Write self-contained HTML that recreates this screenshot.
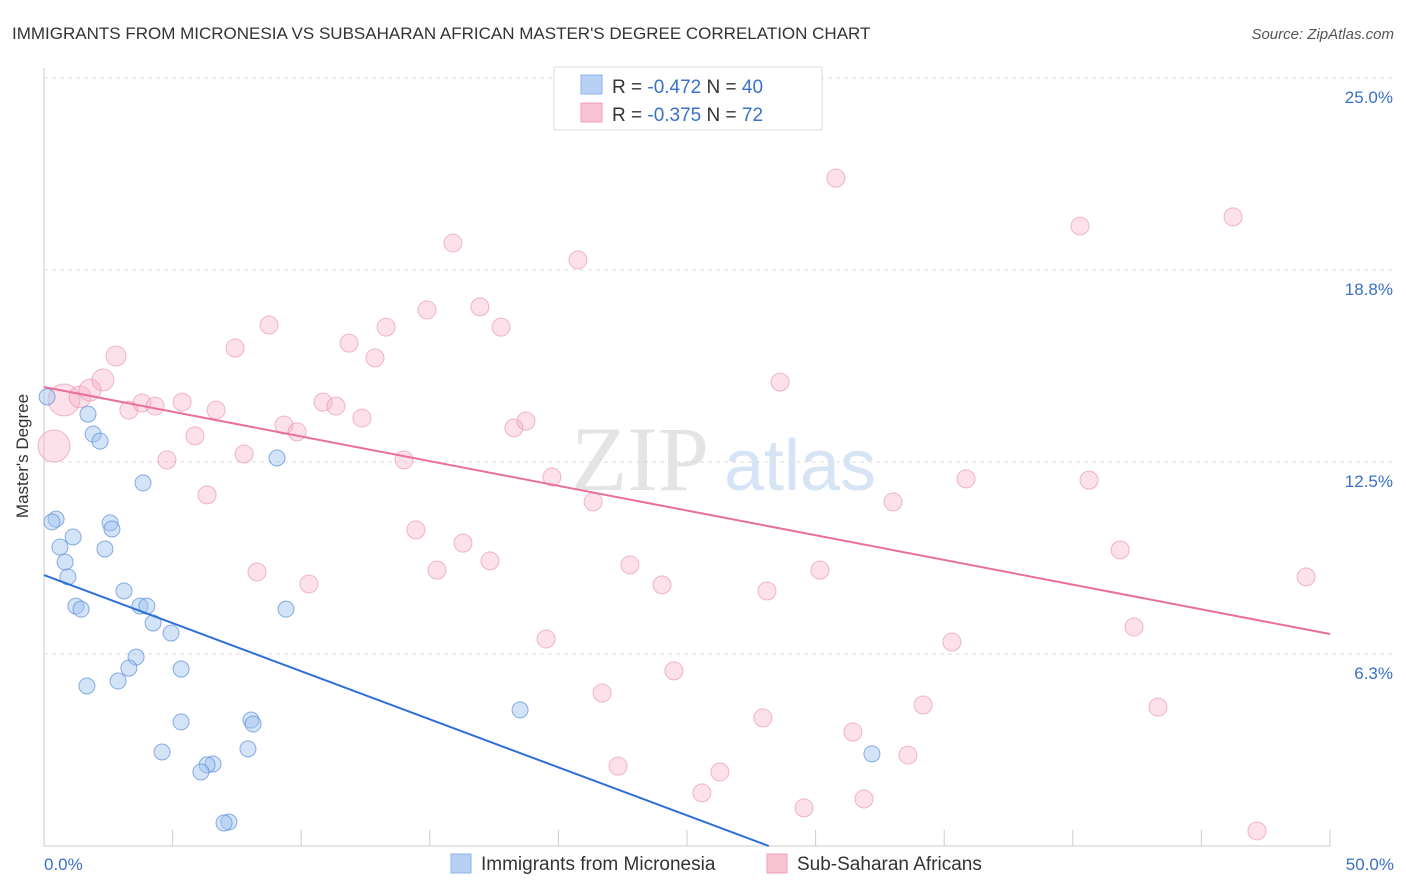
<!DOCTYPE html>
<html><head><meta charset="utf-8"><style>
body{margin:0;background:#fff;font-family:"Liberation Sans",sans-serif;}
svg{display:block}
</style></head><body>
<svg id="chart" width="1406" height="892" xmlns="http://www.w3.org/2000/svg">
<text x="12" y="39" font-size="17" fill="#333">IMMIGRANTS FROM MICRONESIA VS SUBSAHARAN AFRICAN MASTER'S DEGREE CORRELATION CHART</text>
<text x="1394" y="39" font-size="15" fill="#555" font-style="italic" text-anchor="end">Source: ZipAtlas.com</text>
<text x="640" y="490" font-size="92" fill="#e4e4e4" text-anchor="middle" font-family="Liberation Serif,serif">ZIP</text>
<text x="800" y="490" font-size="72" fill="#d6e4f5" text-anchor="middle">atlas</text>
<g id="grid"></g>
<g id="axes"></g>
<g id="marks"></g>
<text x="28" y="456" font-size="17" fill="#333" text-anchor="middle" transform="rotate(-90 28 456)">Master's Degree</text>
<text x="44" y="870" font-size="17" fill="#3a70c8">0.0%</text>
<text x="1394" y="870" font-size="17" fill="#3a70c8" text-anchor="end">50.0%</text>
<g>
<rect x="554" y="67" width="268" height="63" fill="#fff" stroke="#ddd"/>
<rect x="581" y="75" width="21" height="19" fill="#b8d0f4" stroke="#8db3ea"/>
<rect x="581" y="103" width="21" height="19" fill="#f8c4d4" stroke="#f0a0b8"/>
<text x="612" y="93" font-size="19" fill="#333">R = <tspan fill="#3a70c8">-0.472</tspan>   N = <tspan fill="#3a70c8">40</tspan></text>
<text x="612" y="121" font-size="19" fill="#333">R = <tspan fill="#3a70c8">-0.375</tspan>   N = <tspan fill="#3a70c8"> 72</tspan></text>
</g>
<g>
<rect x="451" y="854" width="20" height="19" fill="#b8d0f4" stroke="#8db3ea"/>
<text x="481" y="870" font-size="19" fill="#333">Immigrants from Micronesia</text>
<rect x="767" y="854" width="20" height="19" fill="#f8c4d4" stroke="#f0a0b8"/>
<text x="797" y="870" font-size="19" fill="#333">Sub-Saharan Africans</text>
</g>
</svg>
<script>
const yTicks=[25,18.75,12.5,6.25];
const yTickLabels=["25.0%","18.8%","12.5%","6.3%"];
const xTickVals=[0,5,10,15,20,25,30,35,40,45,50];
const blueX=[0.12,1.71,1.91,2.18,0.47,0.31,2.57,2.64,3.85,9.06,1.13,0.62,2.37,0.82,0.93,3.11,1.24,1.44,3.73,4.00,4.24,4.94,3.58,3.30,5.33,1.67,2.88,9.41,5.33,8.05,8.13,4.59,7.93,6.57,6.34,6.10,7.19,7.00,18.51,32.19];
const blueY=[14.62,14.06,13.41,13.18,10.64,10.55,10.52,10.32,11.82,12.63,10.06,9.73,9.67,9.24,8.76,8.30,7.81,7.71,7.81,7.81,7.26,6.93,6.15,5.79,5.76,5.21,5.37,7.71,4.04,4.10,3.97,3.06,3.16,2.67,2.64,2.41,0.78,0.75,4.43,3.0];
const pinkX=[0.78,0.39,1.40,1.79,2.29,2.80,3.30,3.81,4.32,5.37,4.78,5.87,6.34,6.69,7.43,7.78,8.75,9.33,9.84,8.28,10.30,10.85,11.35,11.86,12.36,12.87,13.30,14.00,14.46,14.89,15.28,15.90,16.29,16.95,17.34,17.77,18.27,18.74,19.75,20.45,20.76,21.35,19.52,21.70,22.32,22.78,24.03,24.49,25.58,26.28,27.95,28.11,28.62,29.55,30.17,30.79,31.45,31.88,33.01,33.59,34.18,35.30,35.85,40.28,40.63,41.84,42.38,43.31,46.23,47.16,49.07];
const pinkY=[14.52,13.02,14.62,14.84,15.17,15.95,14.19,14.42,14.32,14.45,12.57,13.35,11.43,14.19,16.21,12.76,16.96,13.70,13.48,8.92,8.53,14.45,14.32,16.37,13.93,15.89,16.89,12.57,10.29,17.45,8.98,19.63,9.86,17.55,9.28,16.89,13.61,13.83,12.01,23.67,19.08,11.20,6.74,4.98,2.60,9.15,8.50,5.70,1.73,2.41,4.17,8.30,15.10,1.24,8.98,21.74,3.71,1.53,11.20,2.96,4.59,6.64,11.95,20.18,11.91,9.64,7.13,4.52,20.48,0.49,8.76];
const pinkR=[16,16,11,11,11,10,9,9,9,9,9,9,9,9,9,9,9,9,9,9,9,9,9,9,9,9,9,9,9,9,9,9,9,9,9,9,9,9,9,9,9,9,9,9,9,9,9,9,9,9,9,9,9,9,9,9,9,9,9,9,9,9,9,9,9,9,9,9,9,9,9];
const blueTrend=[8.82,-0.313];
const pinkTrend=[14.94,-0.1608];
const NS="http://www.w3.org/2000/svg";
const X0=44,X1=1330,Y0=846,Y1=78;
const sx=v=>X0+(v/50)*(X1-X0);
const sy=v=>Y0-(v/25)*(Y0-Y1);
function mk(t,a,p){const e=document.createElementNS(NS,t);for(const k in a)e.setAttribute(k,a[k]);p.appendChild(e);return e;}
const grid=document.getElementById('grid'),axes=document.getElementById('axes'),marks=document.getElementById('marks');
yTicks.forEach((v,i)=>{
 const l=mk('line',{x1:X0,x2:1394,y1:sy(v),y2:sy(v),stroke:'#ddd','stroke-dasharray':'4 4'},grid);
 
 
 const t=mk('text',{x:1393,y:sy(v)+25,'font-size':17,fill:'#3a70c8','text-anchor':'end'},grid);
 t.textContent=yTickLabels[i];
 
 
});
const ya=mk('line',{x1:X0,x2:X0,y1:68,y2:Y0,stroke:'#ccc'},axes);


const xa=mk('line',{x1:X0,x2:X1,y1:Y0,y2:Y0,stroke:'#ccc'},axes);


xTickVals.forEach(v=>{
 const t=mk('line',{x1:sx(v),x2:sx(v),y1:830,y2:Y0,stroke:'#ccc'},axes);
 
 
});
pinkX.forEach((x,i)=>{
 const c=mk('circle',{cx:sx(x),cy:sy(pinkY[i]),r:pinkR[i],fill:'rgba(246,170,195,0.35)',stroke:'rgba(232,140,170,0.6)','stroke-width':1},marks);
 
 
});
blueX.forEach((x,i)=>{
 const c=mk('circle',{cx:sx(x),cy:sy(blueY[i]),r:8,fill:'rgba(160,195,240,0.45)',stroke:'rgba(90,140,215,0.7)','stroke-width':1},marks);
 
 
});
const bx1=-blueTrend[0]/blueTrend[1];
const bl=mk('line',{x1:sx(0),y1:sy(blueTrend[0]),x2:sx(bx1),y2:sy(0),stroke:'#2f6fd8','stroke-width':2},marks);


const pl=mk('line',{x1:sx(0),y1:sy(pinkTrend[0]),x2:sx(50),y2:sy(pinkTrend[0]+pinkTrend[1]*50),stroke:'#e8709a','stroke-width':2},marks);


</script>
</body></html>
